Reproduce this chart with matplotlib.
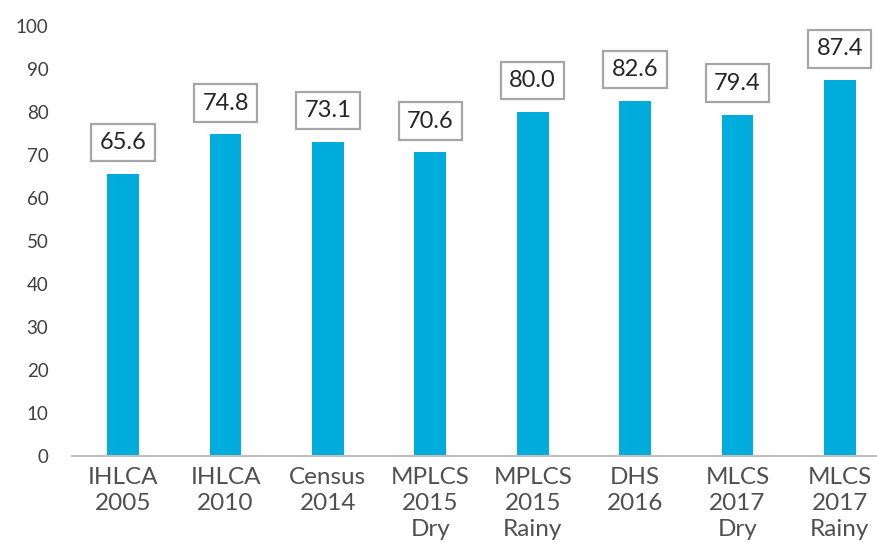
import matplotlib
matplotlib.use("Agg")
import matplotlib.pyplot as plt

categories = ["IHLCA\n2005", "IHLCA\n2010", "Census\n2014", "MPLCS\n2015\nDry",
              "MPLCS\n2015\nRainy", "DHS\n2016", "MLCS\n2017\nDry", "MLCS\n2017\nRainy"]
values = [65.6, 74.8, 73.1, 70.6, 80.0, 82.6, 79.4, 87.4]
yticks = [0, 10, 20, 30, 40, 50, 60, 70, 80, 90, 100]

plt.rcParams['font.family'] = ['Lato', 'DejaVu Sans']

W, H = 877, 544
fig = plt.figure(figsize=(W / 100, H / 100), dpi=100)
ax = fig.add_axes([72 / W, (H - 456) / H, (891 - 72) / W, (456 - 26) / H])

x = list(range(len(categories)))
ax.bar(x, values, width=0.31, color="#00ACDC", zorder=2)

for xi, v in zip(x, values):
    ax.annotate(f"{v:.1f}", xy=(xi, v), xytext=(0, 15), textcoords="offset points",
                ha="center", va="bottom", fontsize=17, color="#262626",
                bbox=dict(boxstyle="square,pad=0.35", fc="white", ec="#A6A6A6", lw=1.6))

ax.set_xlim(-0.5, len(categories) - 0.5)
ax.set_ylim(0, 100)
ax.set_yticks(yticks)
ax.set_yticklabels([str(t) for t in yticks])
ax.set_xticks(x)
ax.set_xticklabels(categories, linespacing=1.3)

ax.tick_params(axis="y", length=0, pad=17, labelsize=13.5, labelcolor="#404040")
ax.tick_params(axis="x", length=0, pad=8, labelsize=17.5, labelcolor="#505050")
for s in ["top", "right", "left"]:
    ax.spines[s].set_visible(False)
ax.spines["bottom"].set_color("#BFBFBF")
ax.spines["bottom"].set_linewidth(1.5)

fig.savefig("out.png", dpi=100)
